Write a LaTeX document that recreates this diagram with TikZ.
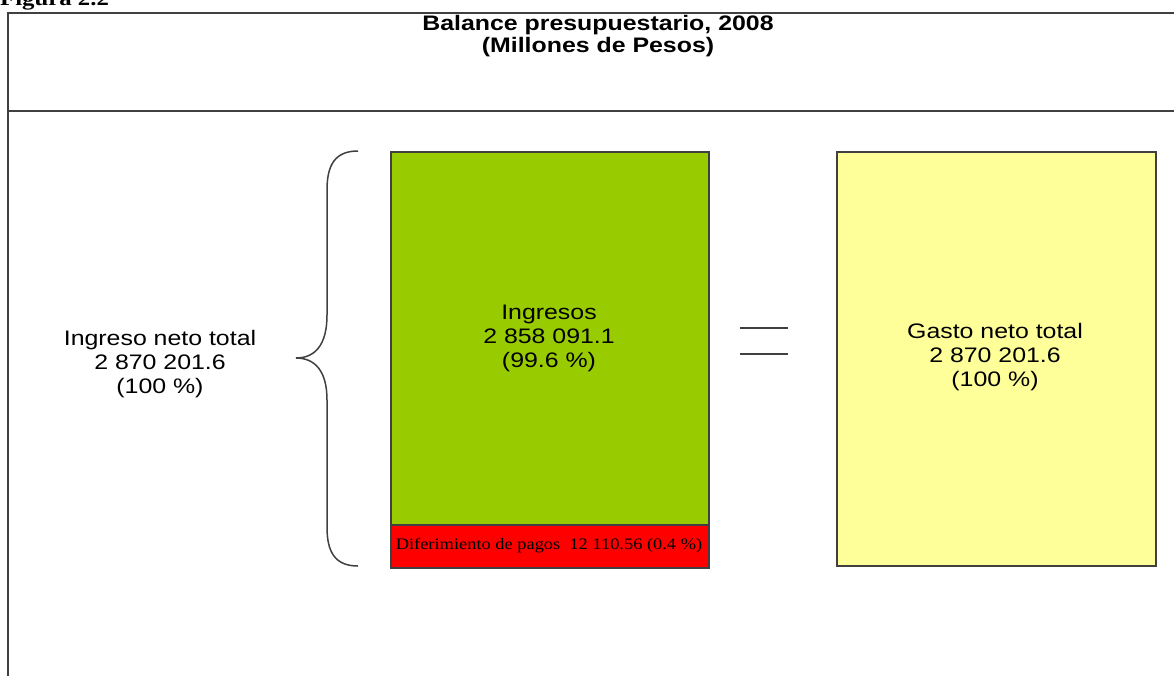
\documentclass[tikz,border=0pt]{standalone}
\usepackage{fontspec}
\setmainfont{Liberation Sans}
\newfontfamily\timesf{Liberation Serif}
\definecolor{ingreen}{HTML}{99CC00}
\definecolor{gastoyel}{HTML}{FFFF99}
\definecolor{framegray}{HTML}{404040}
\newcommand\widetxt[2]{\scalebox{#1}[1]{\begin{tabular}{@{}c@{}}#2\end{tabular}}}
\begin{document}
\begin{tikzpicture}[x=1pt,y=-1pt,
  lbl/.style={inner sep=0pt,font=\fontsize{21}{24}\selectfont},
  boxs/.style={draw=framegray,line width=2pt},
  framel/.style={draw=framegray,line width=2.2pt}]
\useasboundingbox (0,0) rectangle (1174,675);
% cut-off heading
\node[anchor=base west,inner sep=0pt,font=\timesf\bfseries\fontsize{21}{22}\selectfont] (fig) at (0,5) {\scalebox{1.18}[1]{Figura 2.2}};
% outer frame
\draw[framel] (1180,13) -- (8,13) -- (8,680);
\draw[framel] (8,111) -- (1180,111);
\node[lbl,font=\bfseries\fontsize{21}{22}\selectfont] (title) at (598,37) {\widetxt{1.185}{Balance presupuestario, 2008\\(Millones de Pesos)}};
% boxes
\node[boxs,fill=ingreen,minimum width=318,minimum height=373,inner sep=0pt,anchor=north west] (ing) at (390,151) {};
\node[boxs,fill=red,minimum width=318,minimum height=43,inner sep=0pt,anchor=north west] (dif) at (390,524) {};
\node[boxs,fill=gastoyel,minimum width=319,minimum height=414,inner sep=0pt,anchor=north west] (gas) at (836,151) {};
\node[lbl] (ingt) at (549,339) {\widetxt{1.185}{Ingresos\\2 858 091.1\\(99.6 \%)}};
\node[inner sep=0pt,font=\timesf\fontsize{16}{18}\selectfont] (dift) at (549,546) {\scalebox{1.15}[1]{Diferimiento de pagos\ \ 12 110.56 (0.4 \%)}};
\node[lbl] (gast) at (995,358) {\widetxt{1.185}{Gasto neto total\\2 870 201.6\\(100 \%)}};
\node[lbl] (tot) at (160,365) {\widetxt{1.185}{Ingreso neto total\\2 870 201.6\\(100 \%)}};
% equals sign
\coordinate (e1a) at (740,328); \coordinate (e1b) at (788,328);
\coordinate (e2a) at (740,354); \coordinate (e2b) at (788,354);
\draw[line width=1.6pt,framegray] (e1a) -- (e1b);
\draw[line width=1.6pt,framegray] (e2a) -- (e2b);
% brace
\coordinate (bt) at (358,151);
\coordinate (bb) at (358,566);
\coordinate (tip) at (296,358);
\draw[line width=1.5pt,framegray]
  (bt) .. controls (335,151) and (327,165) .. (327,190)
  -- (327,315) .. controls (327,345) and (315,358) .. (tip)
  .. controls (315,358) and (327,371) .. (327,400)
  -- (327,527) .. controls (327,552) and (335,566) .. (bb);
\end{tikzpicture}
\end{document}
